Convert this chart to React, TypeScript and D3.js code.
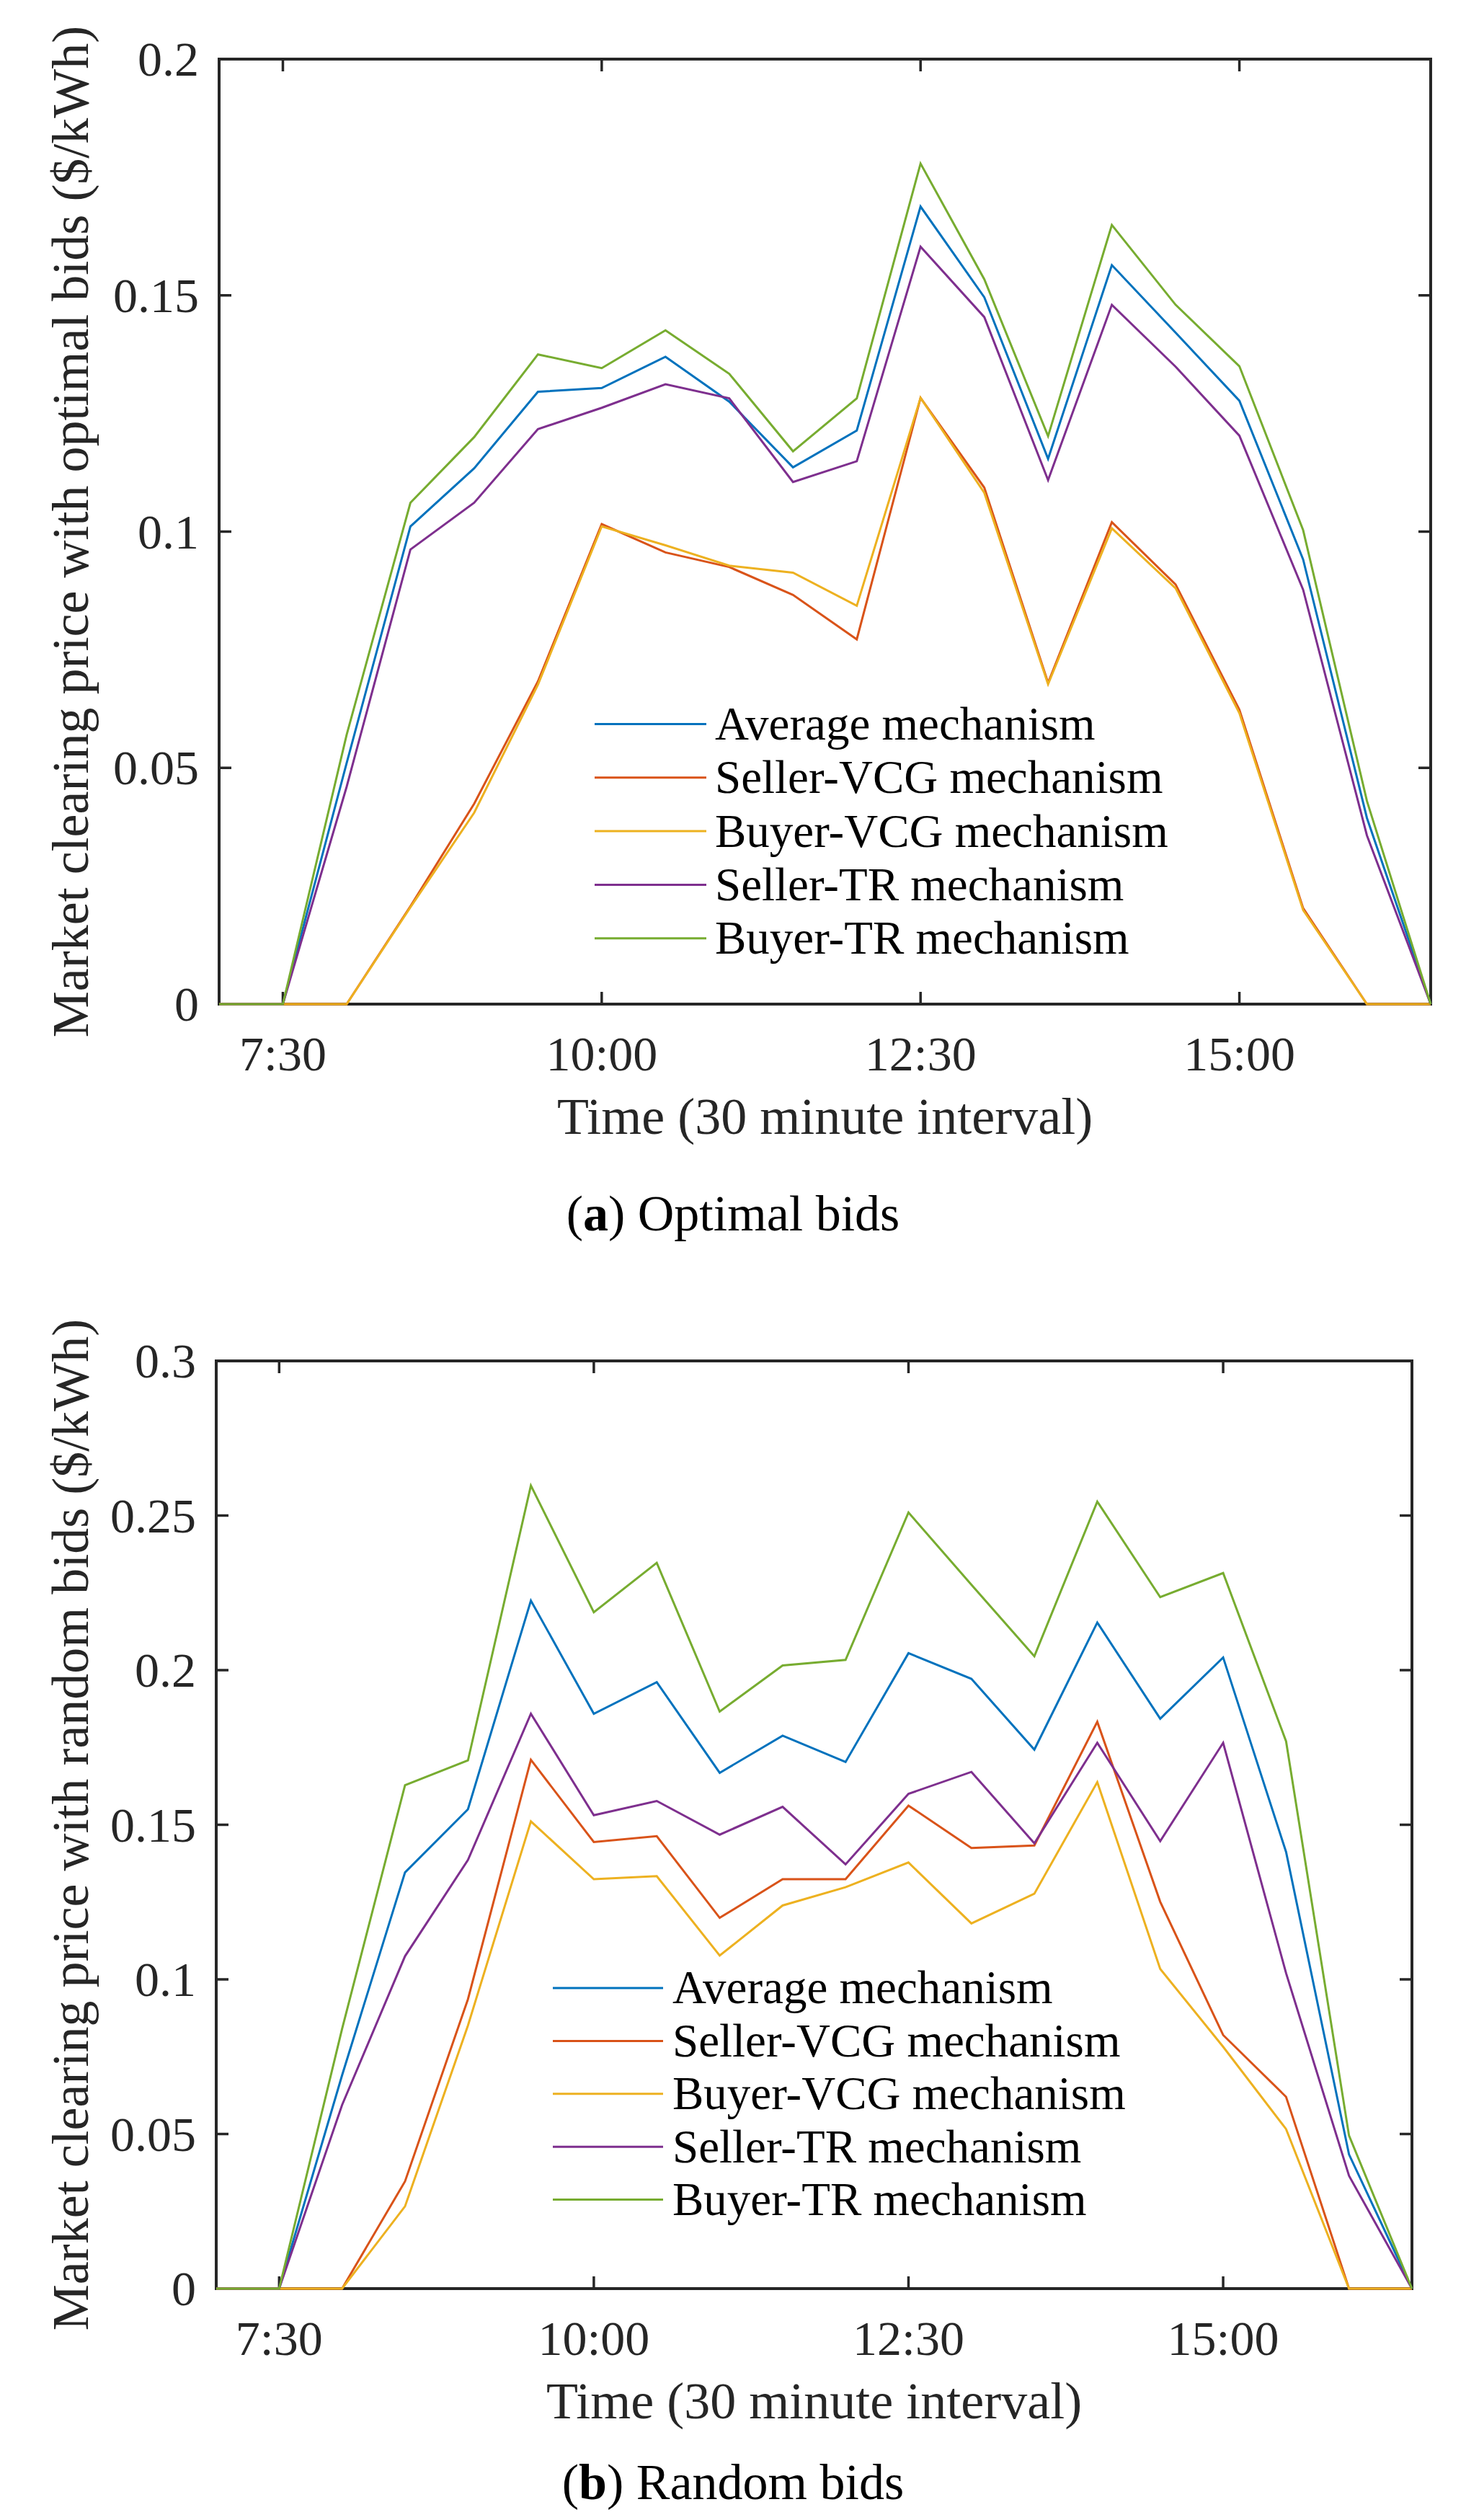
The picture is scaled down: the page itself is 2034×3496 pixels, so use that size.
import React, { useEffect } from 'react';
import * as d3 from 'd3';

// 30 minute slots from 7:00 to 16:30 (index 0..19)
const slots = d3.range(20);
const xTickIdx = [1, 6, 11, 16];
const xTickLabels = ['7:30', '10:00', '12:30', '15:00'];

const seriesNames = [
  'Average mechanism',
  'Seller-VCG mechanism',
  'Buyer-VCG mechanism',
  'Seller-TR mechanism',
  'Buyer-TR mechanism',
];
const seriesColors = ['#0072BD', '#D95319', '#EDB120', '#7E2F8E', '#77AC30'];

// (a) optimal bids
const optAverage = [0, 0, 0.051, 0.1011, 0.1134, 0.1296, 0.1304, 0.137, 0.1275, 0.1136, 0.1214, 0.1688, 0.1496, 0.1154, 0.1564, 0.1421, 0.1277, 0.0941, 0.0394, 0];
const optSellerVCG = [0, 0, 0, 0.0207, 0.0424, 0.0683, 0.1016, 0.0956, 0.0925, 0.0866, 0.0772, 0.1283, 0.1093, 0.068, 0.102, 0.0888, 0.0623, 0.0203, 0, 0];
const optBuyerVCG = [0, 0, 0, 0.0205, 0.0405, 0.0676, 0.1011, 0.0971, 0.0928, 0.0913, 0.0843, 0.1283, 0.1082, 0.0677, 0.1007, 0.088, 0.0616, 0.0199, 0, 0];
const optSellerTR = [0, 0, 0.046, 0.0962, 0.1061, 0.1217, 0.1262, 0.1312, 0.1282, 0.1105, 0.1149, 0.1603, 0.1454, 0.1109, 0.148, 0.1349, 0.1203, 0.0877, 0.0357, 0];
const optBuyerTR = [0, 0, 0.057, 0.1061, 0.12, 0.1375, 0.1346, 0.1426, 0.1334, 0.117, 0.1282, 0.1779, 0.1534, 0.1202, 0.1649, 0.148, 0.135, 0.1003, 0.043, 0];
const optYTicks = [0, 0.05, 0.1, 0.15, 0.2];
const optYTickLabels = ['0', '0.05', '0.1', '0.15', '0.2'];

// (b) random bids
const rndAverage = [0, 0, 0.069, 0.1346, 0.155, 0.2225, 0.1859, 0.1961, 0.1668, 0.1788, 0.1703, 0.2055, 0.1972, 0.1743, 0.2154, 0.1843, 0.2041, 0.1412, 0.0434, 0];
const rndSellerVCG = [0, 0, 0, 0.0347, 0.0936, 0.171, 0.1444, 0.1463, 0.1199, 0.1324, 0.1324, 0.1562, 0.1425, 0.1433, 0.1833, 0.1251, 0.082, 0.062, 0, 0];
const rndBuyerVCG = [0, 0, 0, 0.0266, 0.0851, 0.1511, 0.1324, 0.1334, 0.1077, 0.1239, 0.1298, 0.1378, 0.1181, 0.1277, 0.1638, 0.1034, 0.0782, 0.0516, 0, 0];
const rndSellerTR = [0, 0, 0.0594, 0.1075, 0.1386, 0.1859, 0.1531, 0.1577, 0.1468, 0.1558, 0.1372, 0.16, 0.1671, 0.144, 0.1765, 0.1447, 0.1765, 0.102, 0.0365, 0];
const rndBuyerTR = [0, 0, 0.084, 0.1628, 0.1708, 0.2597, 0.2187, 0.2347, 0.1866, 0.2015, 0.2033, 0.251, 0.2276, 0.2045, 0.2545, 0.2236, 0.2314, 0.177, 0.0495, 0];
const rndYTicks = [0, 0.05, 0.1, 0.15, 0.2, 0.25, 0.3];
const rndYTickLabels = ['0', '0.05', '0.1', '0.15', '0.2', '0.25', '0.3'];

const FONT = '"Liberation Serif", "Times New Roman", serif';
const AXIS = '#262626';

interface PanelProps {
  series: number[][];
  yTicks: number[];
  yTickLabels: string[];
  ylabel: string;
  box: { left: number; right: number; top: number; bottom: number };
  legend: { x1: number; x2: number; tx: number; y0: number; dy: number };
}

const Panel: React.FC<PanelProps> = ({ series, yTicks, yTickLabels, ylabel, box, legend }) => {
  const x = d3.scaleLinear().domain([0, slots.length - 1]).range([box.left, box.right]);
  const y = d3.scaleLinear().domain([0, yTicks[yTicks.length - 1]]).range([box.bottom, box.top]);
  const line = d3.line<number>().x((_, i) => x(i)).y(d => y(d));
  const tick = 17;
  const midX = (box.left + box.right) / 2;
  const midY = (box.top + box.bottom) / 2;

  return (
    <g>
      <rect x={box.left} y={box.top} width={box.right - box.left} height={box.bottom - box.top}
        fill="none" stroke={AXIS} strokeWidth={4} />
      {xTickIdx.map((t, i) => (
        <g key={i}>
          <line x1={x(t)} x2={x(t)} y1={box.bottom} y2={box.bottom - tick} stroke={AXIS} strokeWidth={3.5} />
          <line x1={x(t)} x2={x(t)} y1={box.top} y2={box.top + tick} stroke={AXIS} strokeWidth={3.5} />
          <text x={x(t)} y={box.bottom + 92} textAnchor="middle" fontSize={68} fill={AXIS}>{xTickLabels[i]}</text>
        </g>
      ))}
      {yTicks.map((t, i) => (
        <g key={i}>
          <line x1={box.left} x2={box.left + tick} y1={y(t)} y2={y(t)} stroke={AXIS} strokeWidth={3.5} />
          <line x1={box.right} x2={box.right - tick} y1={y(t)} y2={y(t)} stroke={AXIS} strokeWidth={3.5} />
          <text x={box.left - 28} y={y(t)} dy="0.34em" textAnchor="end" fontSize={68} fill={AXIS}>{yTickLabels[i]}</text>
        </g>
      ))}
      {series.map((s, k) => (
        <path key={k} d={line(s) || ''} fill="none" stroke={seriesColors[k]} strokeWidth={3} strokeLinejoin="miter" />
      ))}
      <text x={midX} y={box.bottom + 180} textAnchor="middle" fontSize={72} fill={AXIS}>Time (30 minute interval)</text>
      <text transform={`translate(122,${midY}) rotate(-90)`} textAnchor="middle" fontSize={72} fill={AXIS}>{ylabel}</text>
      {seriesNames.map((name, k) => {
        const ly = legend.y0 + k * legend.dy;
        return (
          <g key={k}>
            <line x1={legend.x1} x2={legend.x2} y1={ly} y2={ly} stroke={seriesColors[k]} strokeWidth={3} />
            <text x={legend.tx} y={ly} dy="0.33em" fontSize={65} fill="#000">{name}</text>
          </g>
        );
      })}
    </g>
  );
};

const App: React.FC = () => {
  useEffect(() => {
    document.body.style.margin = '0';
  }, []);

  return (
    <svg width={2034} height={3496} style={{ display: 'block', background: '#fff' }} fontFamily={FONT}>
      <Panel
        series={[optAverage, optSellerVCG, optBuyerVCG, optSellerTR, optBuyerTR]}
        yTicks={optYTicks}
        yTickLabels={optYTickLabels}
        ylabel="Market clearing price with optimal bids ($/kWh)"
        box={{ left: 304, right: 1985, top: 82, bottom: 1393 }}
        legend={{ x1: 825, x2: 980, tx: 992, y0: 1004.5, dy: 74.3 }}
      />
      <text x={1017} y={1707} textAnchor="middle" fontSize={70} fill="#000">
        (<tspan fontWeight="bold">a</tspan>) Optimal bids
      </text>
      <Panel
        series={[rndAverage, rndSellerVCG, rndBuyerVCG, rndSellerTR, rndBuyerTR]}
        yTicks={rndYTicks}
        yTickLabels={rndYTickLabels}
        ylabel="Market clearing price with random bids ($/kWh)"
        box={{ left: 300, right: 1959, top: 1888, bottom: 3175 }}
        legend={{ x1: 767, x2: 920, tx: 933, y0: 2758, dy: 73.4 }}
      />
      <text x={1017} y={3467} textAnchor="middle" fontSize={70} fill="#000">
        (<tspan fontWeight="bold">b</tspan>) Random bids
      </text>
    </svg>
  );
};

export default App;
